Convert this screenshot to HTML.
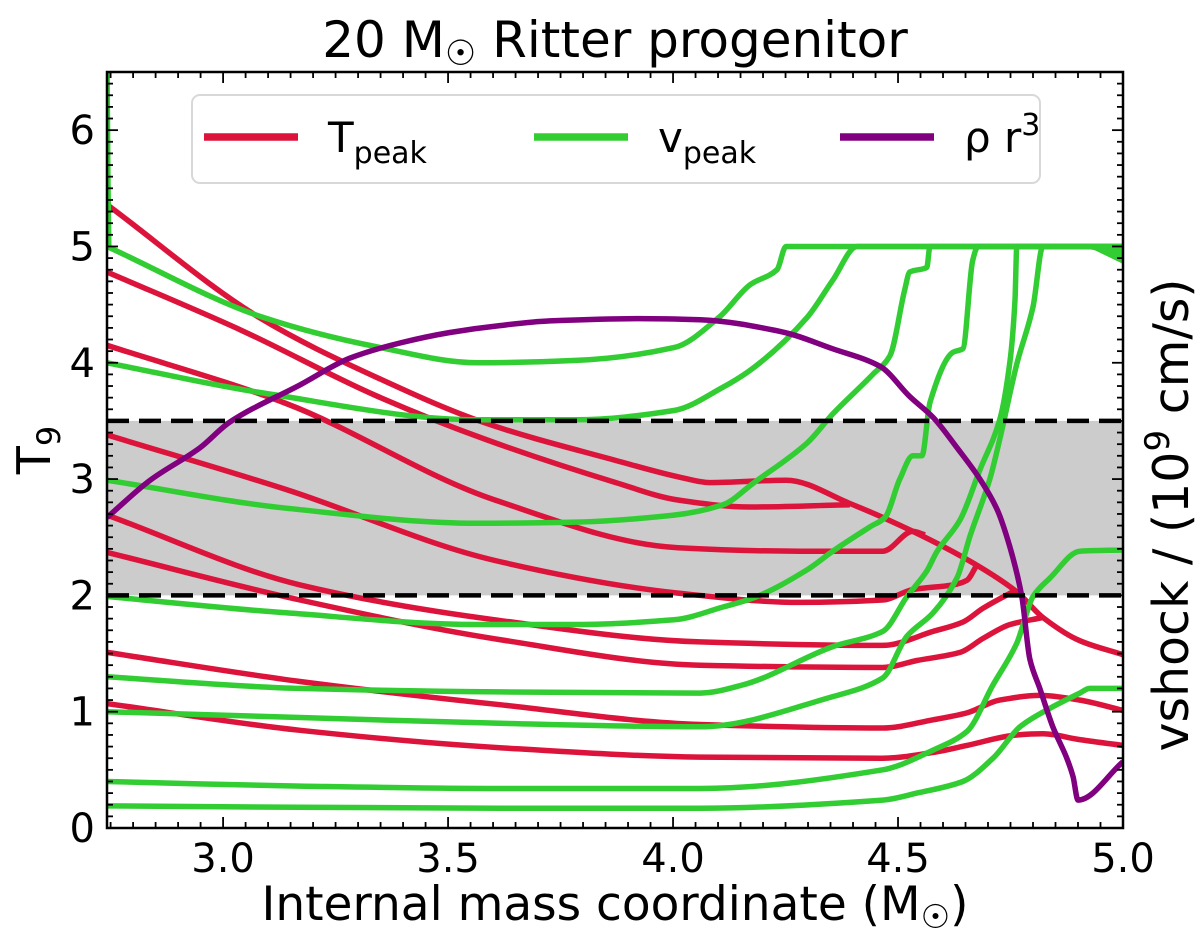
<!DOCTYPE html>
<html><head><meta charset="utf-8"><style>
html,body{margin:0;padding:0;background:#fff;}
svg{display:block;font-family:"DejaVu Sans","Liberation Sans",sans-serif;}
</style></head><body>
<svg id="chart" width="1200" height="939" viewBox="0 0 1200 939">
<text x="615" y="57" font-size="50" text-anchor="middle">20 M<tspan font-size="35" dy="8">☉</tspan><tspan dy="-8"> Ritter progenitor</tspan></text>
<text x="615" y="920" font-size="47" text-anchor="middle">Internal mass coordinate (M<tspan font-size="33" dy="8">☉</tspan><tspan dy="-8">)</tspan></text>
<text transform="translate(50,450) rotate(-90)" font-size="46" text-anchor="middle">T<tspan font-size="32" dy="10">9</tspan></text>
<text transform="translate(1188,515) rotate(-90)" font-size="49" text-anchor="middle">vshock / (10<tspan font-size="34" dy="-19">9</tspan><tspan dy="19"> cm/s)</tspan></text>
<g id="plot"></g>
</svg>
<script>
const xTicks=[3.0,3.5,4.0,4.5,5.0];
const xTickLabels=["3.0","3.5","4.0","4.5","5.0"];
const yTicks=[0,1,2,3,4,5,6];
const yTickLabels=["0","1","2","3","4","5","6"];
const bandLow=2.0, bandHigh=3.5;
// red T_peak curves
const r1x=[2.742,3.080,3.338,3.584,3.873,4.011,4.082,4.251,4.393,4.533,4.666,4.764,4.822,4.904,5.0];
const r1y=[5.36,4.39,3.88,3.48,3.16,3.02,2.97,2.99,2.79,2.55,2.28,2.03,1.81,1.61,1.49];
const r2x=[2.742,3.040,3.338,3.584,3.873,4.011,4.171,4.393];
const r2y=[4.78,4.28,3.72,3.34,2.97,2.82,2.76,2.78];
const r3x=[2.742,3.140,3.604,4.011,4.282,4.466,4.533,4.560];
const r3y=[4.15,3.65,2.82,2.41,2.38,2.38,2.55,2.52];
const r4x=[2.742,3.140,3.604,4.011,4.282,4.466,4.533,4.622,4.653,4.675];
const r4y=[3.38,2.91,2.30,2.02,1.94,1.96,2.05,2.09,2.13,2.26];
const r5x=[2.742,3.171,3.604,4.060,4.466,4.578,4.644,4.689,4.764];
const r5y=[2.69,2.09,1.79,1.60,1.57,1.69,1.77,1.89,2.05];
const r6x=[2.742,3.171,3.615,4.060,4.466,4.542,4.638,4.689,4.749,4.822];
const r6y=[2.37,1.96,1.62,1.40,1.38,1.44,1.51,1.63,1.75,1.81];
const r7x=[2.742,3.171,3.615,4.060,4.466,4.578,4.653,4.726,4.815,4.904,5.0];
const r7y=[1.51,1.26,1.06,0.89,0.86,0.93,0.99,1.10,1.14,1.10,1.01];
const r8x=[2.742,3.171,3.615,4.060,4.466,4.578,4.653,4.764,4.822,4.904,5.0];
const r8y=[1.07,0.84,0.69,0.61,0.60,0.65,0.71,0.80,0.81,0.76,0.71];
// green v_peak curves
const g0x=[2.742,2.744,2.746];
const g0y=[6.6,5.6,5.0];
const g1x=[2.742,3.089,3.338,3.566,3.784,4.002,4.102,4.171,4.231,4.251,4.920,5.0];
const g1y=[5.00,4.39,4.14,4.00,4.02,4.13,4.39,4.67,4.80,5.00,5.00,4.90];
const g2x=[2.742,3.089,3.566,3.784,4.002,4.111,4.180,4.298,4.355,4.409,5.0];
const g2y=[4.00,3.74,3.51,3.51,3.59,3.79,3.96,4.39,4.71,5.00,5.00];
const g3x=[2.742,3.140,3.566,3.784,4.002,4.111,4.180,4.298,4.355,4.444,4.482,4.515,4.526,4.564,4.571,5.0];
const g3y=[2.99,2.75,2.62,2.63,2.69,2.78,2.97,3.31,3.56,3.90,4.06,4.63,4.78,4.82,5.00,5.00];
const g4x=[2.742,3.140,3.566,3.784,4.002,4.111,4.180,4.298,4.355,4.438,4.471,4.504,4.533,4.553,4.571,4.622,4.644,4.666,4.678,5.0];
const g4y=[1.99,1.85,1.75,1.75,1.79,1.90,1.98,2.22,2.38,2.59,2.67,3.00,3.20,3.20,3.66,4.09,4.12,4.88,5.00,5.00];
const g5x=[2.742,3.171,3.615,4.060,4.155,4.355,4.466,4.520,4.564,4.587,4.638,4.682,4.726,4.749,4.760,4.764,5.0];
const g5y=[1.30,1.20,1.17,1.16,1.23,1.56,1.69,1.99,2.21,2.38,2.65,3.08,3.51,4.02,4.54,5.00,5.00];
const g6x=[2.742,3.171,3.615,4.060,4.355,4.466,4.520,4.578,4.631,4.660,4.704,4.726,4.764,4.800,4.822,5.0];
const g6y=[1.00,0.95,0.90,0.87,1.13,1.29,1.65,1.85,2.15,2.51,3.00,3.34,3.99,4.48,5.00,5.00];
const g7x=[2.742,3.171,3.615,4.060,4.466,4.578,4.653,4.711,4.764,4.800,4.838,4.904,5.0];
const g7y=[0.40,0.36,0.34,0.34,0.50,0.67,0.83,1.23,1.59,1.99,2.15,2.38,2.39];
const g8x=[2.742,3.615,4.060,4.466,4.542,4.644,4.711,4.771,4.838,4.904,4.926,5.0];
const g8y=[0.19,0.17,0.17,0.24,0.30,0.40,0.60,0.87,1.03,1.16,1.20,1.20];
// purple rho r^3
const px_=[2.742,2.838,2.949,3.015,3.171,3.282,3.393,3.504,3.615,3.726,3.926,4.060,4.238,4.355,4.460,4.526,4.578,4.631,4.682,4.720,4.749,4.775,4.793,4.815,4.844,4.875,4.889,4.900,5.0];
const py_=[2.67,2.99,3.27,3.49,3.81,4.04,4.17,4.26,4.32,4.36,4.38,4.37,4.27,4.12,3.97,3.71,3.53,3.27,3.00,2.74,2.41,1.99,1.45,1.20,0.87,0.60,0.44,0.24,0.57];

const X0=107,X1=1123,Y0=828,Y1=72,xmin=2.742,xmax=5.0,ymin=0,ymax=6.5;
function sx(v){return X0+(v-xmin)/(xmax-xmin)*(X1-X0);}
function sy(v){return Y0-(v-ymin)/(ymax-ymin)*(Y0-Y1);}
const NS="http://www.w3.org/2000/svg";
const g=document.getElementById('plot');
function mk(tag,attrs,parent){const e=document.createElementNS(NS,tag);for(const k in attrs)e.setAttribute(k,attrs[k]);(parent||g).appendChild(e);return e;}
const cp=mk('clipPath',{id:'clip'});mk('rect',{x:X0,y:Y1,width:X1-X0,height:Y0-Y1},cp);
const band=mk('rect',{x:X0,y:sy(bandHigh),width:X1-X0,height:sy(bandLow)-sy(bandHigh),fill:'#cccccc'});


const lines=mk('g',{'clip-path':'url(#clip)'});
function monoPath(P){
  const n=P.length; if(n<3){return P.map((p,i)=>(i?'L':'M')+p[0].toFixed(1)+','+p[1].toFixed(1)).join('');}
  const d=[],m=[];
  for(let i=0;i<n-1;i++){const dx=P[i+1][0]-P[i][0];d.push(dx>0.5?(P[i+1][1]-P[i][1])/dx:Infinity);}
  for(let i=0;i<n;i++){
    if(i===0)m.push(isFinite(d[0])?d[0]:0);
    else if(i===n-1)m.push(isFinite(d[n-2])?d[n-2]:0);
    else{const a=d[i-1],b=d[i];m.push((!isFinite(a)||!isFinite(b)||a*b<=0)?0:2*a*b/(a+b));}
  }
  let s='M'+P[0][0].toFixed(1)+','+P[0][1].toFixed(1);
  for(let i=0;i<n-1;i++){
    const dx=P[i+1][0]-P[i][0];
    if(!isFinite(d[i])){s+='L'+P[i+1][0].toFixed(1)+','+P[i+1][1].toFixed(1);continue;}
    const c1x=P[i][0]+dx/3,c1y=P[i][1]+m[i]*dx/3,c2x=P[i+1][0]-dx/3,c2y=P[i+1][1]-m[i+1]*dx/3;
    s+='C'+c1x.toFixed(1)+','+c1y.toFixed(1)+' '+c2x.toFixed(1)+','+c2y.toFixed(1)+' '+P[i+1][0].toFixed(1)+','+P[i+1][1].toFixed(1);
  }
  return s;
}
function series(xs,ys,color,name){
  const P=xs.map((x,i)=>[sx(x),sy(ys[i])]);
  const p=mk('path',{d:monoPath(P),fill:'none',stroke:color,'stroke-width':5.5,'stroke-linejoin':'round'},lines);
  
  
}
const reds=[[r1x,r1y],[r2x,r2y],[r3x,r3y],[r4x,r4y],[r5x,r5y],[r6x,r6y],[r7x,r7y],[r8x,r8y]];
const greens=[[g0x,g0y],[g1x,g1y],[g2x,g2y],[g3x,g3y],[g4x,g4y],[g5x,g5y],[g6x,g6y],[g7x,g7y],[g8x,g8y]];
reds.forEach((s,i)=>series(s[0],s[1],'#dc143c','tpeak-line-'+(i+1)));
greens.forEach((s,i)=>series(s[0],s[1],'#32cd32','vpeak-line-'+i));
const fillTri=mk('polygon',{points:sx(4.92)+','+sy(5.0)+' '+sx(5.0)+','+sy(5.0)+' '+sx(5.0)+','+sy(4.85),fill:'#32cd32'},lines);


series(px_,py_,'#800080','rho-r3-line');
[bandLow,bandHigh].forEach((v,i)=>{
  const l=mk('line',{x1:X0,x2:X1,y1:sy(v),y2:sy(v),stroke:'#000','stroke-width':4.5,'stroke-dasharray':'22,10'});
  
  
});
const tk=mk('g',{stroke:'#000','stroke-width':1.8});


for(let v=2.75;v<=5.0001;v+=0.05){const x=sx(v);const major=Math.abs(v*2-Math.round(v*2))<1e-6;const L=major?11:6;
  mk('line',{x1:x,x2:x,y1:Y0,y2:Y0-L},tk);mk('line',{x1:x,x2:x,y1:Y1,y2:Y1+L},tk);}
for(let v=0;v<=6.5001;v+=0.1){const y=sy(v);const major=Math.abs(v-Math.round(v))<1e-6;const L=major?11:6;
  mk('line',{x1:X0,x2:X0+L,y1:y,y2:y},tk);mk('line',{x1:X1,x2:X1-L,y1:y,y2:y},tk);}
xTicks.forEach((v,i)=>{const t=mk('text',{x:sx(v),y:872,'font-size':40,'text-anchor':'middle'});t.textContent=xTickLabels[i];
  
  });
yTicks.forEach((v,i)=>{const t=mk('text',{x:95,y:sy(v)+14,'font-size':40,'text-anchor':'end'});t.textContent=yTickLabels[i];
  
  });
const fr=mk('rect',{x:X0,y:Y1,width:X1-X0,height:Y0-Y1,fill:'none',stroke:'#000','stroke-width':2.5});


const lg=mk('g',{});


mk('rect',{x:192,y:95,width:848,height:88,rx:8,fill:'#fff','fill-opacity':0.8,stroke:'#d8d8d8','stroke-width':2},lg);
const entries=[['#dc143c',204,'T','peak','legend-tpeak'],['#32cd32',534,'v','peak','legend-vpeak'],['#800080',840,'ρ r','3','legend-rho']];
entries.forEach(e=>{
  const eg=mk('g',{},lg);
  
  
  mk('line',{x1:e[1],x2:e[1]+94,y1:137,y2:137,stroke:e[0],'stroke-width':7.5},eg);
  const t=mk('text',{x:e[1]+124,y:152,'font-size':42},eg);
  t.appendChild(document.createTextNode(e[2]));
  const ts=mk('tspan',{'font-size':30,dy:e[3]==='3'?-17:11},t);ts.textContent=e[3];
});
</script>
</body></html>
